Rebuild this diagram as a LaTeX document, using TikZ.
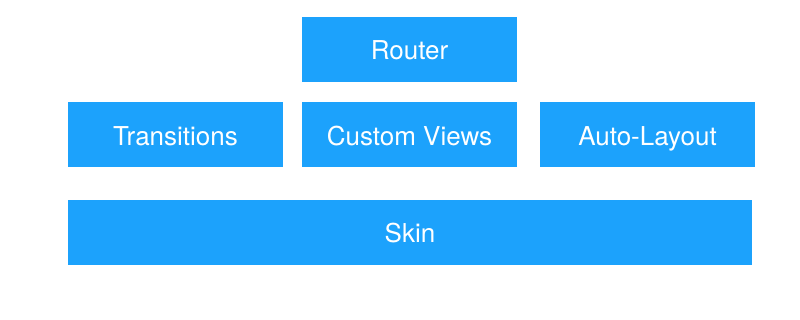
\documentclass[tikz,border=0pt]{standalone}
\usepackage{fontspec}
\usepackage{tikz}
\usetikzlibrary{positioning}
\usepackage{xcolor}
\newfontfamily\heros{TeX Gyre Heros}
\definecolor{layerblue}{RGB}{28,162,252}

\begin{document}
\begin{tikzpicture}[x=1pt, y=-1pt,
    block/.style={fill=layerblue, text=white, outer sep=0pt, inner sep=0pt,
        minimum width=215pt, minimum height=65pt,
        text height=21pt, text depth=0pt,
        font=\heros\fontsize{26}{30}\selectfont}]

    \useasboundingbox (0,0) rectangle (800,320);

    % middle row
    \node[block] (views) at (409.5,135) {Custom Views};
    \node[block, left=19pt of views] (trans) {Transitions};
    \node[block, right=23pt of views] (auto) {Auto-Layout};

    % top
    \node[block, above=20.5pt of views] (router) {Router};

    % base layer
    \node[block, minimum width=684pt] (skin) at (410,232.5) {Skin};
\end{tikzpicture}
\end{document}
